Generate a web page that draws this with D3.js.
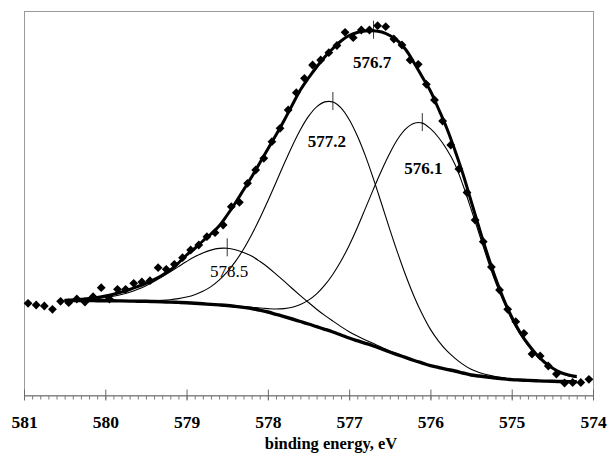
<!DOCTYPE html>
<html>
<head>
<meta charset="utf-8">
<script src="https://cdn.jsdelivr.net/npm/d3@7"></script>
<style>
  html, body { margin: 0; padding: 0; background: #fff; }
  svg { display: block; }
  text { font-family: "Liberation Serif", "Times New Roman", serif; }
</style>
</head>
<body>
<svg id="chart" width="610" height="462"></svg>
<script>
// Measured spectrum: binding energy (eV) and intensity (arbitrary units)
const dataEnergy = [
  580.95, 580.85, 580.75, 580.65, 580.55, 580.45, 580.35, 580.25, 580.15, 580.05,
  579.95, 579.85, 579.75, 579.65, 579.55, 579.45, 579.35, 579.25, 579.15, 579.05,
  578.95, 578.85, 578.75, 578.65, 578.55, 578.45, 578.35, 578.25, 578.15, 578.05,
  577.95, 577.85, 577.75, 577.65, 577.55, 577.45, 577.35, 577.25, 577.15, 577.05,
  576.95, 576.85, 576.75, 576.65, 576.55, 576.45, 576.35, 576.25, 576.15, 576.05,
  575.95, 575.85, 575.75, 575.65, 575.55, 575.45, 575.35, 575.25, 575.15, 575.05,
  574.95, 574.85, 574.75, 574.65, 574.55, 574.45, 574.35, 574.25, 574.15, 574.05
];
const dataIntensity = [
  91.7, 90, 89, 85.7, 93.7, 92.3, 96, 93, 98.3, 107.3,
  96, 105.7, 105.7, 111.7, 113, 114.3, 127.3, 125.7, 130.7, 137.3,
  145, 150, 158.3, 162.3, 170, 188.3, 192.7, 211.7, 225, 236.7,
  253.3, 266.7, 285, 302.3, 316.7, 330, 335, 342.3, 349.5, 362.7,
  357.3, 365, 365, 369.3, 368.3, 356, 350, 335, 330.7, 310.7,
  295, 274, 250, 226, 202.5, 175, 153.3, 128, 105, 85.7,
  73.3, 61.7, 41, 39, 29, 21, 12, 12.5, 12.5, 15.7
];

// Fit curves, sampled on a common energy grid
const fitEnergy = [
  580.5, 580.4, 580.3, 580.2, 580.1, 580.0, 579.9, 579.8, 579.7, 579.6,
  579.5, 579.4, 579.3, 579.2, 579.1, 579.0, 578.9, 578.8, 578.7, 578.6,
  578.5, 578.4, 578.3, 578.2, 578.1, 578.0, 577.9, 577.8, 577.7, 577.6,
  577.5, 577.4, 577.3, 577.2, 577.1, 577.0, 576.9, 576.8, 576.7, 576.6,
  576.5, 576.4, 576.3, 576.2, 576.1, 576.0, 575.9, 575.8, 575.7, 575.6,
  575.5, 575.4, 575.3, 575.2, 575.1, 575.0, 574.9, 574.8, 574.7, 574.6,
  574.5, 574.4, 574.3, 574.2
];
// Shirley-type background
const background = [
  94.5, 94.5, 94.4, 94.4, 94.3, 94.3, 94.2, 94.1, 93.9, 93.8,
  93.7, 93.5, 93.2, 92.9, 92.6, 92.2, 91.7, 91.2, 90.6, 90.1,
  89.5, 88.6, 87.6, 86.5, 84.8, 83.0, 80.7, 78.4, 76.0, 73.5,
  71.0, 68.3, 65.7, 63.0, 60.0, 57.0, 54.3, 51.7, 49.0, 46.0,
  43.0, 40.2, 37.3, 34.5, 31.9, 29.3, 27.5, 25.7, 24.0, 22.0,
  20.0, 19.0, 18.0, 17.0, 16.2, 15.4, 15.0, 14.6, 14.2, 13.9,
  13.7, 13.5, 13.4, 13.3
];
// Overall fit envelope
const envelope = [
  94.5, 95.0, 95.7, 96.5, 97.6, 99.0, 100.8, 103.0, 105.5, 108.5,
  111.7, 115.3, 119.8, 125.0, 132.0, 140.0, 146.5, 154.0, 161.0, 169.0,
  180.0, 192.0, 205.0, 218.0, 232.0, 246.0, 260.0, 274.5, 290.0, 305.0,
  317.0, 328.0, 338.0, 346.5, 354.0, 359.5, 362.5, 364.0, 364.3, 363.0,
  359.5, 354.0, 345.0, 332.0, 318.0, 304.0, 286.0, 267.0, 245.0, 221.0,
  194.0, 167.0, 141.0, 117.0, 96.0, 78.0, 63.0, 51.0, 41.0, 33.0,
  27.0, 22.5, 20.0, 18.5
];
// Component peaks, intensity above the background
const comp5785 = [
  0.3, 0.5, 0.9, 1.3, 2.0, 3.1, 4.5, 6.4, 8.8, 11.9,
  15.6, 20.0, 24.9, 30.3, 35.8, 41.3, 46.5, 50.9, 54.3, 56.5,
  57.2, 56.6, 55.0, 52.4, 48.9, 44.8, 40.2, 35.4, 30.5, 25.9,
  21.5, 17.5, 13.9, 10.9, 8.4, 6.3, 4.6, 3.4, 2.4, 1.7,
  1.1, 0.8, 0.5, 0.3, 0.2, 0.1, 0.1, 0, 0, 0,
  0, 0, 0, 0, 0, 0, 0, 0, 0, 0,
  0, 0, 0, 0
];
const comp5772 = [
  0, 0, 0, 0, 0, 0, 0, 0.1, 0.2, 0.3,
  0.6, 0.9, 1.5, 2.4, 3.8, 5.8, 8.6, 12.5, 17.8, 24.8,
  33.7, 44.8, 58.1, 73.8, 91.6, 111.1, 131.8, 152.8, 173.1, 191.8,
  207.6, 219.8, 227.4, 230.0, 227.1, 218.5, 204.9, 187.4, 166.9, 145.0,
  122.7, 101.2, 81.4, 63.8, 48.8, 36.3, 26.4, 18.6, 12.9, 8.6,
  5.7, 3.6, 2.2, 1.4, 0.8, 0.5, 0.3, 0.1, 0, 0,
  0, 0, 0, 0
];
const comp5761 = [
  0, 0, 0, 0, 0, 0, 0, 0, 0, 0,
  0, 0, 0, 0, 0, 0, 0, 0, 0.1, 0.2,
  0.3, 0.5, 0.8, 1.3, 2.2, 3.4, 5.3, 8.0, 11.8, 17.0,
  23.9, 32.9, 44.1, 57.8, 74.0, 92.6, 113.0, 134.9, 157.1, 178.8,
  198.8, 216.0, 229.0, 237.2, 240.0, 237.0, 230.0, 220.0, 207.0, 188.0,
  166.0, 142.0, 118.0, 96.0, 77.0, 60.0, 46.0, 35.0, 26.0, 19.0,
  13.5, 9.0, 5.5, 4.0
];

// Peak positions (eV) and their labels
const peakEnergy = [578.5, 577.2, 576.1];
const envelopePeakEnergy = 576.7;
const peakLabels = ["578.5", "577.2", "576.1"];
const envelopeLabel = "576.7";
const majorTicks = [581, 580, 579, 578, 577, 576, 575, 574];
const axisTitle = "binding energy, eV";

// ---- layout ----
const svg = d3.select("#chart");
const plotLeft = 24, plotRight = 593, plotTop = 11, plotBottom = 395;

const x = d3.scaleLinear().domain([581, 574]).range([plotLeft, plotRight]);
const y = d3.scaleLinear().domain([0, 384]).range([plotBottom, plotTop]);

// plot frame
svg.append("rect")
  .attr("x", plotLeft + 0.5).attr("y", plotTop + 0.5)
  .attr("width", plotRight - plotLeft).attr("height", plotBottom - plotTop)
  .attr("fill", "none").attr("stroke", "#9a9a9a").attr("stroke-width", 1);

// bottom axis: minor ticks every 0.1 eV
const axisG = svg.append("g").attr("transform", `translate(0,${plotBottom + 0.5})`);
axisG.append("g")
  .call(d3.axisBottom(x).tickValues(x.ticks(70)).tickSize(4).tickSizeOuter(0).tickFormat(""))
  .call(g => g.selectAll("line").attr("stroke", "#7a7a7a"))
  .call(g => g.select(".domain").attr("stroke", "#7a7a7a"));

// major ticks cross the axis line, with bold labels
axisG.append("g")
  .call(d3.axisBottom(x).tickValues(majorTicks).tickSize(5).tickSizeOuter(0).tickFormat(d3.format("d")))
  .call(g => g.select(".domain").remove())
  .call(g => g.selectAll("line").attr("y1", -6).attr("y2", 5).attr("stroke", "#6a6a6a"))
  .call(g => g.selectAll("text")
    .attr("y", 32).attr("dy", null)
    .attr("fill", "#000")
    .style("font-family", '"Liberation Serif", "Times New Roman", serif')
    .style("font-weight", "bold")
    .style("font-size", "17.5px"));

svg.append("text")
  .attr("x", 331).attr("y", 449)
  .attr("text-anchor", "middle")
  .style("font-weight", "bold").style("font-size", "16.5px")
  .text(axisTitle);

// ---- curves ----
const line = d3.line()
  .x(d => x(d[0]))
  .y(d => y(d[1]))
  .curve(d3.curveCatmullRom.alpha(0.5));

const comps = [comp5785, comp5772, comp5761];
comps.forEach(c => {
  svg.append("path")
    .datum(fitEnergy.map((e, i) => [e, background[i] + c[i]]))
    .attr("d", line)
    .attr("fill", "none").attr("stroke", "#000").attr("stroke-width", 1.1);
});

svg.append("path")
  .datum(fitEnergy.map((e, i) => [e, background[i]]))
  .attr("d", line)
  .attr("fill", "none").attr("stroke", "#000").attr("stroke-width", 3.4);

svg.append("path")
  .datum(fitEnergy.map((e, i) => [e, envelope[i]]))
  .attr("d", line)
  .attr("fill", "none").attr("stroke", "#000").attr("stroke-width", 3);

// measured points as diamonds
const diamond = "M0,-4.4L4.4,0L0,4.4L-4.4,0Z";
svg.append("g").selectAll("path")
  .data(dataEnergy.map((e, i) => [e, dataIntensity[i]]))
  .join("path")
  .attr("d", diamond)
  .attr("transform", d => `translate(${x(d[0])},${y(d[1])})`)
  .attr("fill", "#000");

// ---- peak markers and labels ----
const idxOf = e => fitEnergy.findIndex(v => Math.abs(v - e) < 1e-6);
const labelStyle = [
  { dx: 2, dy: 29, weight: "normal" },
  { dx: -6, dy: 45, weight: "bold" },
  { dx: 1, dy: 51, weight: "bold" }
];
const markers = peakEnergy.map((p, j) => {
  const i = idxOf(p);
  return { e: p, v: background[i] + comps[j][i], label: peakLabels[j], style: labelStyle[j] };
});
markers.push({
  e: envelopePeakEnergy,
  v: envelope[idxOf(envelopePeakEnergy)],
  label: envelopeLabel,
  style: { dx: -1.5, dy: 37.5, weight: "bold" }
});

markers.forEach(m => {
  const px = x(m.e), py = y(m.v);
  svg.append("line")
    .attr("x1", px).attr("x2", px)
    .attr("y1", py - 10).attr("y2", py + 8)
    .attr("stroke", "#000").attr("stroke-width", 0.8);
  svg.append("text")
    .attr("x", px + m.style.dx).attr("y", py + m.style.dy)
    .attr("text-anchor", "middle")
    .style("font-size", "17px")
    .style("font-weight", m.style.weight)
    .text(m.label);
});
</script>
</body>
</html>
